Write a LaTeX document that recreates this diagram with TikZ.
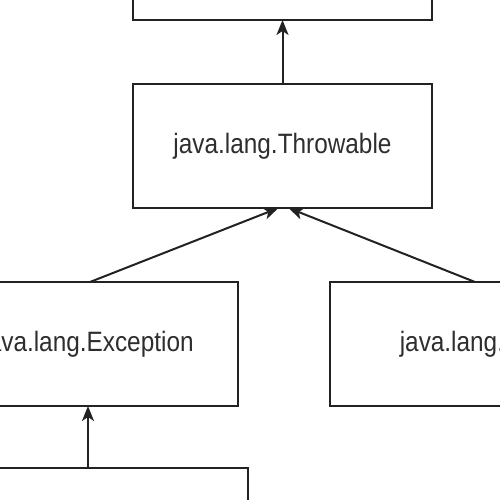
\documentclass[tikz,border=0pt]{standalone}
\usepackage{fontspec}
\setmainfont{Liberation Sans}[FakeStretch=0.87]
\usetikzlibrary{arrows.meta}
\definecolor{ink}{HTML}{222222}
\definecolor{txt}{HTML}{2e2e2e}
\tikzset{
  cls/.style={draw=ink, line width=2pt, fill=white, minimum width=299pt, minimum height=124pt,
    inner sep=0pt, outer sep=0pt, font=\fontsize{28}{31}\selectfont, text=txt},
  inh/.style={draw=ink, line width=2pt, -{Stealth[length=15pt,width=12pt,inset=4pt]}}
}
\begin{document}
\begin{tikzpicture}[x=1pt,y=-1pt]
\useasboundingbox (0,0) rectangle (500,500);
\clip (0,0) rectangle (500,500);
\node[cls] (obj) at (282.5,-42) {};
\node[cls] (thr) at (282.5,146) {java.lang.Throwable};
\node[cls] (exc) at (88,344) {java.lang.Exception};
\node[cls] (err) at (479,344) {java.lang.Error};
\node[cls] (sub) at (98,530) {};
\draw[inh] (thr.north) -- (obj.south);
\draw[inh] ([xshift=2pt]exc.north) -- ([xshift=-4pt]thr.south);
\draw[inh] ([xshift=-4pt]err.north) -- ([xshift=6pt]thr.south);
\draw[inh] (sub.north -| exc.south) -- (exc.south);
\end{tikzpicture}
\end{document}
